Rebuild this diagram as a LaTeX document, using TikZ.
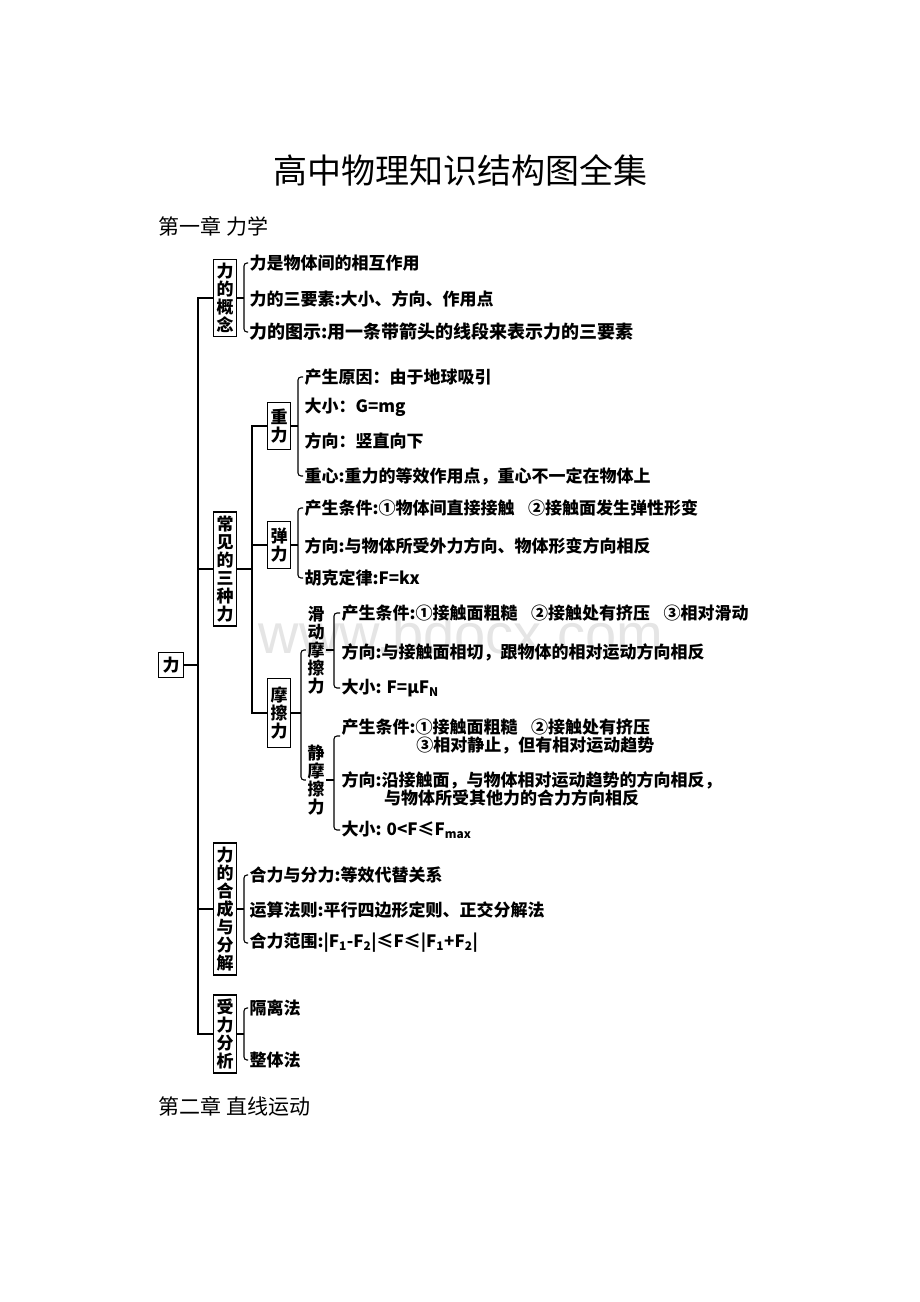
\documentclass[tikz,border=0pt]{standalone}
\usepackage{fontspec}
\newfontfamily\cjk{Noto Sans CJK SC}
\newfontfamily\wmfont{Liberation Sans}
\usetikzlibrary{positioning}

\begin{document}
\begin{tikzpicture}[x=1pt,y=1pt,line width=1.1pt,
    kbox/.style={draw,line width=1.3pt,inner xsep=3pt,inner ysep=4pt,align=center,
      font=\cjk\bfseries\fontsize{17}{18}\selectfont},
    vtext/.style={inner sep=1pt,align=center,font=\cjk\bfseries\fontsize{17}{18}\selectfont},
    item/.style={anchor=west,inner xsep=1pt,inner ysep=1pt,align=left,
      font=\cjk\bfseries\fontsize{17}{18}\selectfont},
    brk/.style={rounded corners=3pt}]
    \useasboundingbox[fill=white] (0,0) rectangle (920,-1302);
    \node[text=black!10,font=\wmfont\fontsize{56}{60}\selectfont] (wm) at (461,-633) {www.bdocx.com};
    \node[font=\cjk\fontsize{34}{36}\selectfont] (title) at (460,-170) {高中物理知识结构图全集};
    \node[anchor=west,inner sep=0pt,font=\cjk\fontsize{21}{24}\selectfont] (ch1) at (158,-226) {第一章 力学};
    \node[anchor=west,inner sep=0pt,font=\cjk\fontsize{21}{24}\selectfont] (ch2) at (158,-1106) {第二章 直线运动};
    % boxes
    \node[kbox,minimum width=25pt,minimum height=25pt] (li) at (171,-665) {力};
    \node[kbox] (gn) at (225,-298) {力\\的\\概\\念};
    \node[kbox] (cj) at (225,-569) {常\\见\\的\\三\\种\\力};
    \node[kbox] (hc) at (225,-909) {力\\的\\合\\成\\与\\分\\解};
    \node[kbox] (sf) at (225,-1034) {受\\力\\分\\析};
    \node[kbox,minimum height=47pt] (zl) at (279,-426) {重\\力};
    \node[kbox,minimum height=47pt] (tl) at (279,-545) {弹\\力};
    \node[kbox,minimum height=69pt] (mc) at (279,-713) {摩\\擦\\力};
    \node[vtext] (hd) at (316,-650) {滑\\动\\摩\\擦\\力};
    \node[vtext] (jm) at (316,-780) {静\\摩\\擦\\力};
    % items
    \node[item] (gn1) at (248,-263) {力是物体间的相互作用};
    \node[item] (gn2) at (248,-299) {力的三要素:大小、方向、作用点};
    \node[item,font=\cjk\bfseries\fontsize{18}{18}\selectfont] (gn3) at (248,-332) {力的图示:用一条带箭头的线段来表示力的三要素};
    \node[item] (zl1) at (303,-377) {产生原因：由于地球吸引};
    \node[item] (zl2) at (303,-407) {大小：G=mg};
    \node[item] (zl3) at (303,-441) {方向：竖直向下};
    \node[item] (zl4) at (303,-476) {重心:重力的等效作用点，重心不一定在物体上};
    \node[item] (tl1) at (303,-508) {产生条件:①物体间直接接触\hspace{0.8em}②接触面发生弹性形变};
    \node[item] (tl2) at (303,-546) {方向:与物体所受外力方向、物体形变方向相反};
    \node[item] (tl3) at (303,-578) {胡克定律:F=kx};
    \node[item] (hd1) at (340,-613) {产生条件:①接触面粗糙\hspace{0.8em}②接触处有挤压\hspace{0.8em}③相对滑动};
    \node[item] (hd2) at (340,-652) {方向:与接触面相切，跟物体的相对运动方向相反};
    \node[item] (hd3) at (340,-688) {大小: F=μF\textsubscript{N}};
    \node[item] (jm1) at (340,-736) {产生条件:①接触面粗糙\hspace{0.8em}②接触处有挤压\\\hspace*{4.4em}③相对静止，但有相对运动趋势};
    \node[item] (jm2) at (340,-789) {方向:沿接触面，与物体相对运动趋势的方向相反，\\\hspace*{2.5em}与物体所受其他力的合力方向相反};
    \node[item] (jm3) at (340,-830) {大小: 0<F≤F\textsubscript{max}};
    \node[item] (hc1) at (248,-875) {合力与分力:等效代替关系};
    \node[item] (hc2) at (248,-910) {运算法则:平行四边形定则、正交分解法};
    \node[item] (hc3) at (248,-943) {合力范围:|F\textsubscript{1}-F\textsubscript{2}|≤F≤|F\textsubscript{1}+F\textsubscript{2}|};
    \node[item] (sf1) at (248,-1008) {隔离法};
    \node[item] (sf2) at (248,-1060) {整体法};
    % trunks
    \coordinate (t) at (198,-665);
    \coordinate (s) at (252,-569);
    \draw (gn.west) -| (t) |- (sf.west);
    \draw (li.east) -- (t);
    \draw (cj.west) -- (cj.west -| t);
    \draw (hc.west) -- (hc.west -| t);
    \draw (zl.west) -| (s) |- (mc.west);
    \draw (cj.east) -- (s);
    \draw (tl.west) -- (tl.west -| s);
    % brackets
    \coordinate (bgn) at (244,-298);
    \coordinate (bzl) at (298,-426);
    \coordinate (btl) at (298,-545);
    \coordinate (bmc) at (301,-713);
    \coordinate (bhd) at (334,-650);
    \coordinate (bjm) at (334,-780);
    \coordinate (bhc) at (244,-909);
    \coordinate (bsf) at (244,-1034);
    \draw[brk] (gn1.west) -| (bgn) |- (gn3.west);
    \draw (gn.east) -- (bgn);
    \draw[brk] (zl1.west) -| (bzl) |- (zl4.west);
    \draw (zl.east) -- (bzl);
    \draw[brk] (tl1.west) -| (btl) |- (tl3.west);
    \draw (tl.east) -- (btl);
    \draw[brk] (hd.west) -| (bmc) |- (jm.west);
    \draw (mc.east) -- (bmc);
    \draw[brk] (hd1.west) -| (bhd) |- (hd3.west);
    \draw (hd.east) -- (bhd);
    \draw[brk] (jm1.west) -| (bjm) |- (jm3.west);
    \draw (jm.east) -- (bjm);
    \draw[brk] (hc1.west) -| (bhc) |- (hc3.west);
    \draw (hc.east) -- (bhc);
    \draw[brk] (sf1.west) -| (bsf) |- (sf2.west);
    \draw (sf.east) -- (bsf);
\end{tikzpicture}
\end{document}
